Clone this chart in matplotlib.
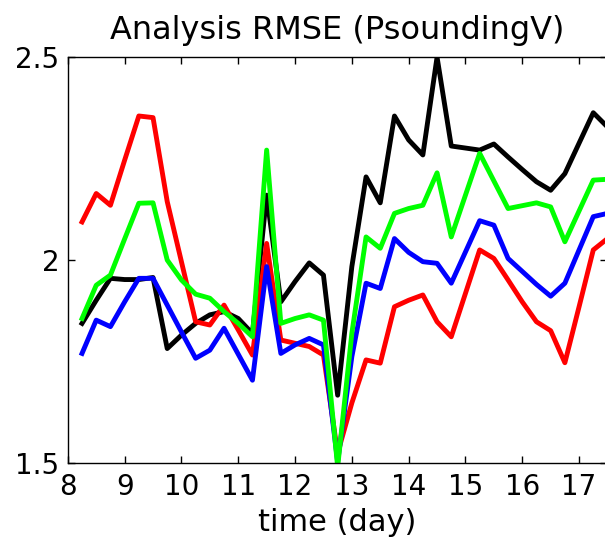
import numpy as np
import matplotlib
matplotlib.use("Agg")
import matplotlib.pyplot as plt

plt.rcParams['font.family'] = ['DejaVu Sans']

# time in days, every 6 hours
days = np.arange(8.25, 17.51, 0.25)

black = [1.844, 1.901, 1.955, 1.952, 1.952, 1.957, 1.782, 1.815, 1.844, 1.865,
         1.873, 1.856, 1.819, 2.160, 1.897, 1.947, 1.993, 1.963, 1.667, 1.984,
         2.205, 2.141, 2.355, 2.296, 2.259, 2.500, 2.281, 2.276, 2.271, 2.286,
         2.254, 2.223, 2.193, 2.172, 2.213, 2.288, 2.363, 2.328]
red = [2.094, 2.164, 2.135, 2.246, 2.355, 2.351, 2.144, 1.996, 1.848, 1.840,
       1.889, 1.828, 1.766, 2.041, 1.803, 1.795, 1.787, 1.766, 1.524, 1.648,
       1.754, 1.746, 1.885, 1.901, 1.914, 1.848, 1.811, 1.918, 2.025, 2.004,
       1.951, 1.897, 1.848, 1.826, 1.747, 1.885, 2.025, 2.053]
blue = [1.770, 1.852, 1.836, 1.897, 1.955, 1.955, 1.889, 1.823, 1.758, 1.778,
        1.832, 1.768, 1.704, 1.984, 1.770, 1.791, 1.807, 1.791, 1.503, 1.762,
        1.943, 1.930, 2.053, 2.019, 1.996, 1.992, 1.943, 2.020, 2.097, 2.086,
        2.004, 1.972, 1.940, 1.911, 1.943, 2.025, 2.107, 2.115]
green = [1.856, 1.938, 1.963, 2.052, 2.140, 2.141, 2.000, 1.951, 1.916, 1.906,
         1.873, 1.844, 1.811, 2.271, 1.844, 1.856, 1.865, 1.852, 1.490, 1.820,
         2.057, 2.029, 2.115, 2.127, 2.135, 2.215, 2.057, 2.160, 2.263, 2.195,
         2.127, 2.134, 2.141, 2.131, 2.045, 2.121, 2.197, 2.199]

fig = plt.figure(figsize=(6.05, 5.39), dpi=100)
ax = fig.add_axes([0.1121, 0.141, 0.892, 0.753])

ax.plot(days, black, color='black', lw=3.5)
ax.plot(days, red, color='red', lw=3.5)
ax.plot(days, blue, color='blue', lw=3.5)
ax.plot(days, green, color=(0, 1, 0), lw=3.5)

ax.set_xlim(8, 17.5)
ax.set_ylim(1.5, 2.5)
ax.set_xticks(range(8, 18))
ax.set_yticks([1.5, 2, 2.5])
ax.set_yticklabels(['1.5', '2', '2.5'])
ax.tick_params(direction='in', top=True, right=True, length=5, width=1,
               labelsize=20)
ax.tick_params(axis='x', pad=7)
ax.tick_params(axis='y', pad=6)
for s in ax.spines.values():
    s.set_linewidth(1)

ax.set_title('Analysis RMSE (PsoundingV)', fontsize=23, pad=13)
ax.set_xlabel('time (day)', fontsize=22, labelpad=5)

fig.savefig('out.png', dpi=100)
